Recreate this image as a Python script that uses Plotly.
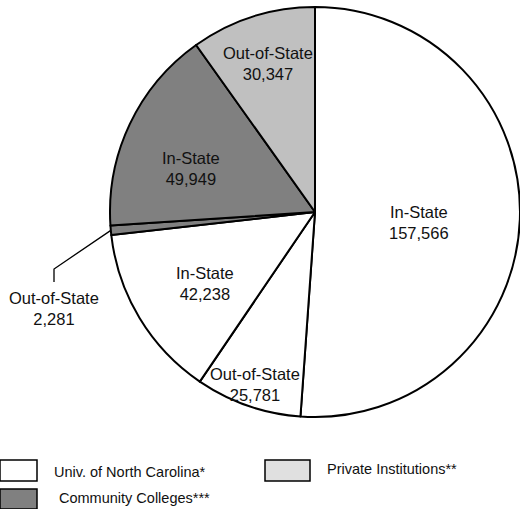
import plotly.graph_objects as go
import math

W, H = 520, 509

# Data (clockwise from 12 o'clock)
slice_ids = ["UNC In-State", "UNC Out-of-State", "Private In-State",
             "CC Out-of-State", "CC In-State", "Private Out-of-State"]
slice_text = ["In-State", "Out-of-State", "In-State",
              "Out-of-State", "In-State", "Out-of-State"]
slice_values = [157566, 25781, 42238, 2281, 49949, 30347]
slice_colors = ["#ffffff", "#ffffff", "#ffffff", "#808080", "#808080", "#c0c0c0"]

legend_names = ["Univ. of North Carolina*", "Private Institutions**", "Community Colleges***"]
legend_colors = ["#ffffff", "#e0e0e0", "#808080"]

# style: label distance from centre (fraction of radius; None = outside w/ leader)
label_radius = [0.51, 0.89, 0.64, None, 0.64, 0.76]
# style: small angular nudge of each label from the slice mid-angle (degrees)
label_angle_nudge = [3.5, 0, -2, 0, -6, 0]

FONT = "Liberation Sans, Arial, sans-serif"
PIE_FONT_SIZE = 16.5
LEGEND_FONT_SIZE = 14.5
TXT_COL = "#111111"

# pie geometry (pixels)
cx, cy, R = 315, 212, 205

def px(x):
    return x / W

def py(y):
    return 1 - y / H

fig = go.Figure()
fig.add_trace(go.Pie(
    labels=slice_ids,
    values=slice_values,
    textinfo="none",
    sort=False,
    direction="clockwise",
    rotation=0,
    marker=dict(colors=slice_colors, line=dict(color="black", width=2)),
    showlegend=False,
    hoverinfo="label+value",
    domain=dict(x=[px(cx - R), min(1, px(cx + R))], y=[py(cy + R), py(cy - R)]),
))

# slice labels, positioned at each slice's mid-angle computed from the data
total = sum(slice_values)
cum = 0
for i, v in enumerate(slice_values):
    mid = (cum + v / 2) / total
    cum += v
    ang = 2 * math.pi * mid
    label = f"{slice_text[i]}<br>{v:,}"
    if label_radius[i] is not None:
        a = ang + math.radians(label_angle_nudge[i])
        r = label_radius[i] * R
        lx = cx + r * math.sin(a)
        ly = cy - r * math.cos(a)
        fig.add_annotation(x=px(lx), y=py(ly), xref="paper", yref="paper",
                           text=label, showarrow=False, xanchor="center", yanchor="middle",
                           font=dict(family=FONT, size=PIE_FONT_SIZE, color=TXT_COL))
    else:
        # outside label with elbow leader line from the slice edge
        ex = cx + R * math.sin(ang)
        ey = cy - R * math.cos(ang)
        elbow_x, elbow_y, end_y = 54, 269, 282
        fig.add_shape(type="path",
                      path=f"M {px(ex)} {py(ey)} L {px(elbow_x)} {py(elbow_y)} L {px(elbow_x)} {py(end_y)}",
                      xref="paper", yref="paper", line=dict(color="black", width=1.3))
        fig.add_annotation(x=px(54), y=py(308), xref="paper", yref="paper",
                           text=label, showarrow=False, xanchor="center", yanchor="middle",
                           font=dict(family=FONT, size=PIE_FONT_SIZE, color=TXT_COL))

# custom legend
legend_boxes = [(0, 460, 37, 481), (265, 460, 310, 481), (0, 489, 37, 509)]
legend_text_pos = [(52, 472), (325, 469), (57, 498)]
for (x0, y0, x1, y1), (tx, ty), name, col in zip(legend_boxes, legend_text_pos, legend_names, legend_colors):
    fig.add_shape(type="rect", xref="paper", yref="paper",
                  x0=px(x0), x1=px(x1), y0=py(y1), y1=py(y0),
                  fillcolor=col, line=dict(color="black", width=1.5))
    fig.add_annotation(x=px(tx), y=py(ty), xref="paper", yref="paper",
                       text=name, showarrow=False, xanchor="left", yanchor="middle",
                       font=dict(family=FONT, size=LEGEND_FONT_SIZE, color=TXT_COL))

fig.update_layout(
    width=W, height=H,
    margin=dict(l=0, r=0, t=0, b=0),
    paper_bgcolor="white", plot_bgcolor="white",
)

fig.write_html("out.html", config={"displayModeBar": False},
               post_script="document.body.style.margin='0';document.body.style.overflow='hidden';")
